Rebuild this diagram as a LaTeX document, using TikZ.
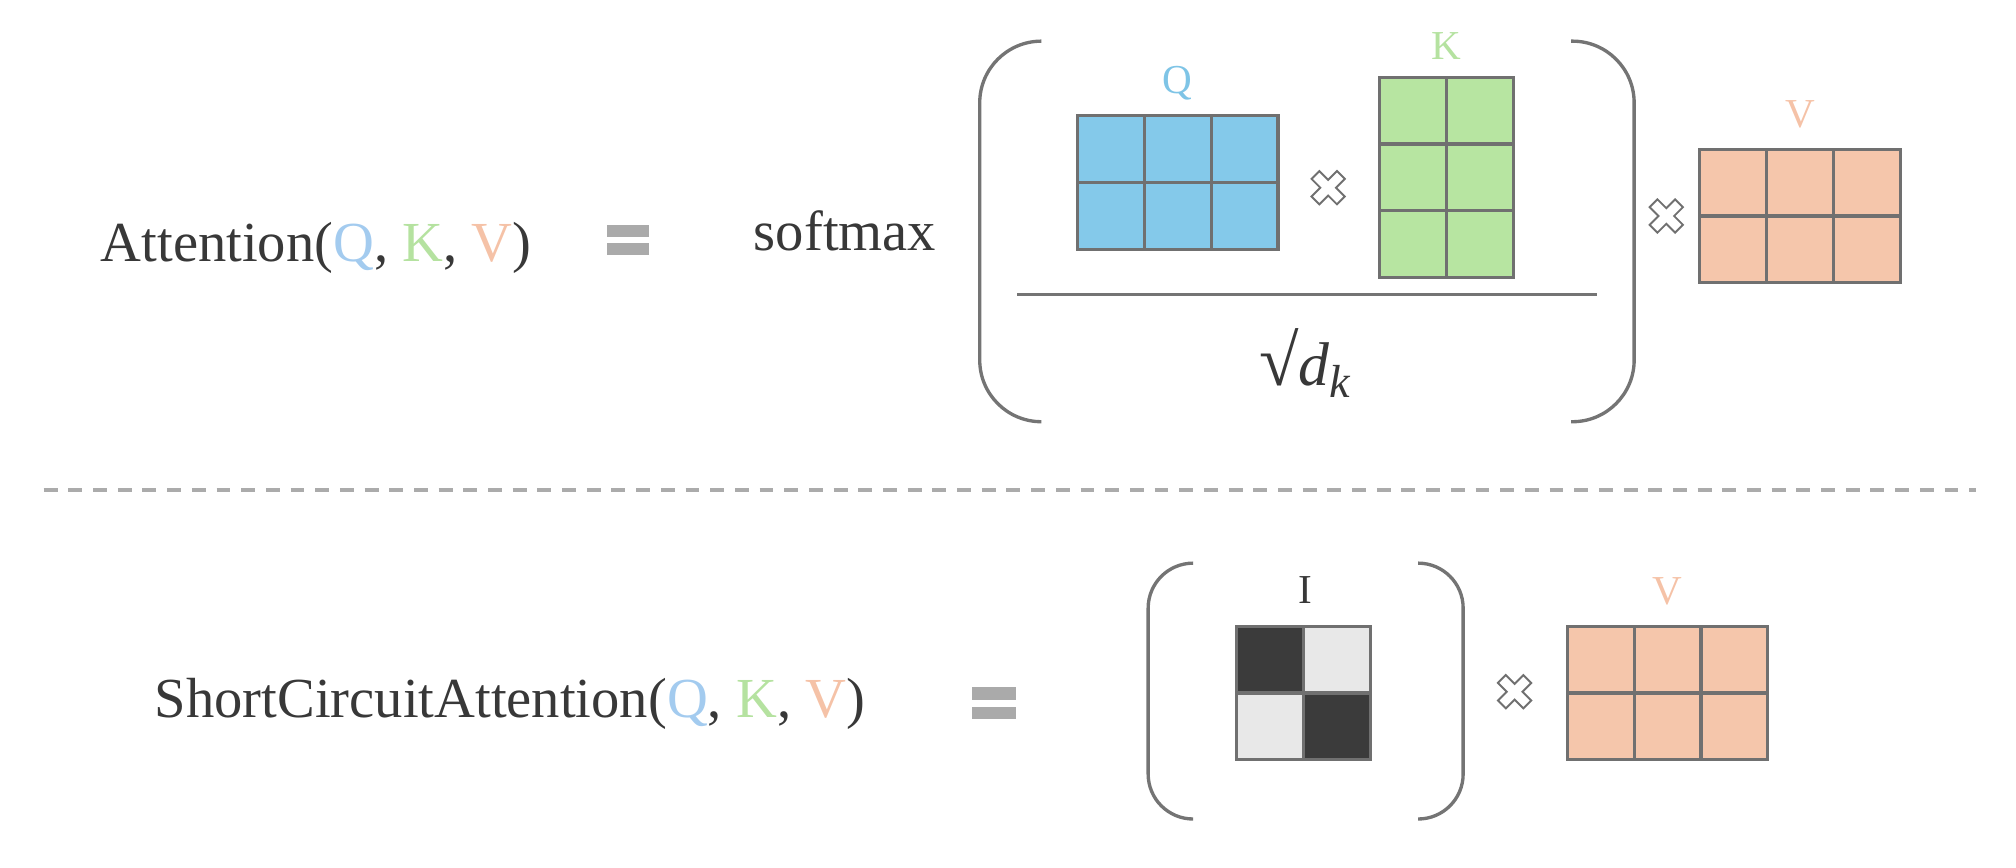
\documentclass[tikz,border=0pt]{standalone}
\usepackage{fontspec}
\setmainfont{Liberation Serif}
\definecolor{txt}{HTML}{383838}
\definecolor{qtxt}{HTML}{A3CBEF}
\definecolor{ktxt}{HTML}{B5E2A0}
\definecolor{vtxt}{HTML}{F5C2A7}
\definecolor{qlbl}{HTML}{7EC4E6}
\definecolor{qfill}{HTML}{84C9EA}
\definecolor{kfill}{HTML}{B7E5A1}
\definecolor{vfill}{HTML}{F5C6AB}
\definecolor{idark}{HTML}{3B3B3B}
\definecolor{ilight}{HTML}{E8E8E8}
\definecolor{gridgray}{HTML}{707070}
\definecolor{brgray}{HTML}{747474}
\definecolor{eqgray}{HTML}{AAAAAA}
\definecolor{dashgray}{HTML}{ABABAB}
\newcommand\gridmat[5]{%
  \foreach \i in {1,...,#3}{\foreach \j in {1,...,#4}{%
    \path[cellbox, fill=#5] ({#1+(\i-1)*52},{#2+(\j-1)*52}) rectangle +(52,52);}}}
\newcommand\timesmark[2]{%
  \begin{scope}[shift={(#1,#2)},rotate=45]
    \path[timesmk] (4.3,4.3) -- (4.3,14) -- (-4.3,14) -- (-4.3,4.3) -- (-14,4.3) -- (-14,-4.3) -- (-4.3,-4.3)
      -- (-4.3,-14) -- (4.3,-14) -- (4.3,-4.3) -- (14,-4.3) -- (14,4.3) -- cycle;
  \end{scope}}
\begin{document}
\begin{tikzpicture}[x=0.5pt,y=-0.5pt,
  cellbox/.style={draw=gridgray, line width=1.2pt},
  bracket/.style={draw=brgray, line width=1.3pt},
  maintext/.style={inner sep=0pt, anchor=base west, text=txt, font=\fontsize{22}{26}\selectfont},
  lbl/.style={inner sep=0pt, anchor=base, font=\fontsize{16}{19}\selectfont},
  eqbar/.style={fill=eqgray},
  timesmk/.style={draw=gridgray, fill=white, line width=0.75pt, line join=miter},
  sep/.style={draw=dashgray, line width=1.3pt, dash pattern=on 5.4pt off 4.2pt}]
\useasboundingbox (0,0) rectangle (1568,675);

% ---------- top formula ----------
\node[maintext] (att) at (78,203) {Attention(\textcolor{qtxt}{Q}, \textcolor{ktxt}{K}, \textcolor{vtxt}{V})};
\fill[eqbar] (472,175) rectangle (505,184);
\fill[eqbar] (472,189) rectangle (505,198);
\node[maintext] (smax) at (586,195) {softmax};

\draw[bracket, rounded corners=24pt] (810,32) -- (762,32) -- (762,328) -- (810,328);
\draw[bracket, rounded corners=24pt] (1222,32) -- (1271,32) -- (1271,328) -- (1222,328);

\gridmat{838}{90}{3}{2}{qfill}
\node[lbl, text=qlbl] (qlab) at (916,73) {Q};
\timesmark{1033}{146}
\gridmat{1073}{60}{2}{3}{kfill}
\node[lbl, text=ktxt] (klab) at (1125,46) {K};

\draw[bracket] (791,229) -- (1242,229);
\node[inner sep=0pt, anchor=base, text=txt] (sqrtdk) at (1015,300)
  {\fontsize{28}{30}\selectfont √\fontsize{24}{28}\selectfont\textit{d}\raisebox{-0.4ex}{\fontsize{18}{20}\selectfont\textit{k}}};

\timesmark{1296}{168}
\gridmat{1322}{116}{3}{2}{vfill}
\node[lbl, text=vtxt] (vlab) at (1400,99) {V};

% ---------- separator ----------
\draw[sep] (34,381) -- (1537,381);

% ---------- bottom formula ----------
\node[maintext] (sca) at (120,558) {ShortCircuitAttention(\textcolor{qtxt}{Q}, \textcolor{ktxt}{K}, \textcolor{vtxt}{V})};
\fill[eqbar] (756,534.5) rectangle (790,544.5);
\fill[eqbar] (756,549.5) rectangle (790,559.5);

\draw[bracket, rounded corners=17.5pt] (928,438) -- (893,438) -- (893,637) -- (928,637);
\draw[bracket, rounded corners=17.5pt] (1103,438) -- (1138,438) -- (1138,637) -- (1103,637);

\path[cellbox, fill=idark] (962,487) rectangle +(52,52);
\path[cellbox, fill=ilight] (1014,487) rectangle +(52,52);
\path[cellbox, fill=ilight] (962,539) rectangle +(52,52);
\path[cellbox, fill=idark] (1014,539) rectangle +(52,52);
\node[lbl, text=txt] (ilab) at (1015,469) {I};

\timesmark{1178}{538}
\gridmat{1219}{487}{3}{2}{vfill}
\node[lbl, text=vtxt] (vlab2) at (1297,470) {V};
\end{tikzpicture}
\end{document}
